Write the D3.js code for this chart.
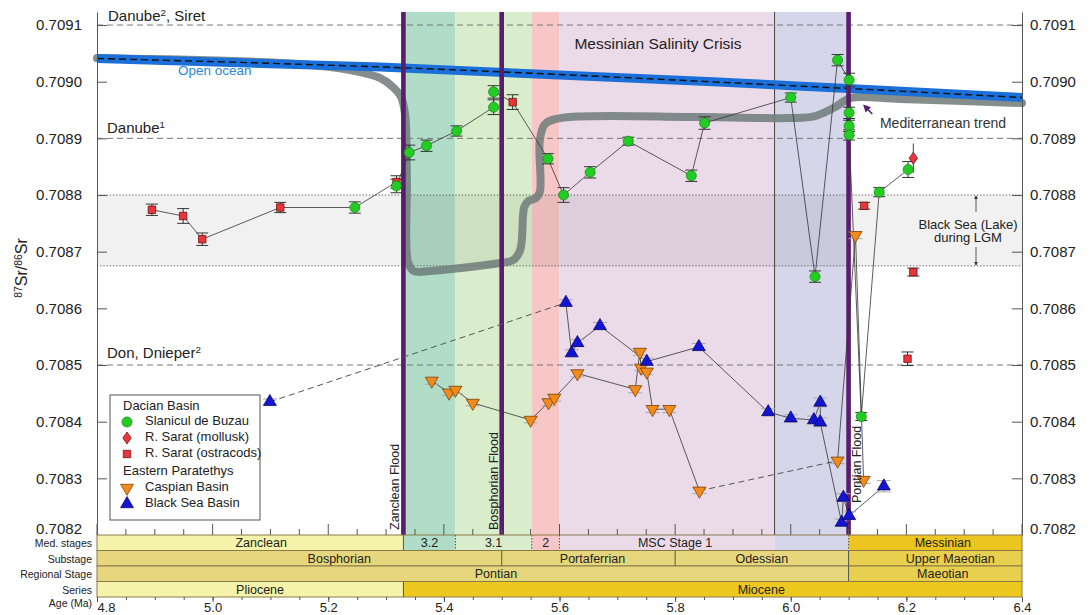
<!DOCTYPE html>
<html><head><meta charset="utf-8">
<script src="https://cdn.jsdelivr.net/npm/d3@7"></script>
<style>
body{margin:0;background:#fff;}
text{font-family:"Liberation Sans",Arial,Helvetica,sans-serif;fill:#222;}
</style>
</head><body>
<svg id="c" width="1091" height="615"></svg>
<script>
// ---------------- DATA ----------------
const yTicks = [0.7082,0.7083,0.7084,0.7085,0.7086,0.7087,0.7088,0.7089,0.7090,0.7091];
const xMajorTicks = [4.8,5.0,5.2,5.4,5.6,5.8,6.0,6.2,6.4];
const xMinorTicks = d3.range(0,33).map(i=>+(4.8+i*0.05).toFixed(2));

const refLevels = [0.7091, 0.7089, 0.7085];
const lgmBand = [0.708675, 0.7088];

// shaded intervals (Ma)
const zoneStart = [5.33, 5.42, 5.552, 5.60, 5.972];
const zoneEnd   = [5.42, 5.552, 5.60, 5.972, 6.10];
const floodAge  = [5.33, 5.50, 6.10];
const floodNames = ["Zanclean Flood","Bosphorian Flood","Pontian Flood"];
const mscBoundary = 5.972;

// open ocean curve
const oceanAge = [4.80, 5.29, 5.98, 6.10, 6.40];
const oceanSr  = [0.709041, 0.709026, 0.708994, 0.708988, 0.708972];

// Mediterranean trend
const trendAge = [4.800,5.151,5.238,5.290,5.312,5.326,5.333,5.336,5.338,5.348,5.376,5.497,5.520,5.532,5.537,5.539,5.546,5.559,5.566,5.566,5.575,5.601,5.843,5.999,6.042,6.077,6.103,6.189,6.400];
const trendSr  = [0.7090417,0.7090311,0.7090205,0.7090064,0.7089905,0.7089729,0.7089411,0.7088264,0.7086817,0.7086659,0.7086659,0.7086800,0.7086853,0.7087029,0.7087647,0.7087788,0.7087894,0.7087947,0.7088053,0.7088970,0.7089253,0.7089358,0.7089376,0.7089358,0.7089394,0.7089553,0.7089711,0.7089694,0.7089623];

// Dacian Basin: Slanicul de Buzau
const slanicAge = [5.246,5.318,5.340,5.370,5.422,5.486,5.486,5.580,5.607,5.653,5.719,5.828,5.851,6.000,6.042,6.081,6.101,6.101,6.101,6.101,6.122,6.153,6.203];
const slanicSr  = [0.708778,0.708816,0.708875,0.708887,0.708913,0.708955,0.708982,0.708864,0.708800,0.708840,0.708895,0.708834,0.708927,0.708972,0.708656,0.709038,0.709003,0.708945,0.708922,0.708906,0.708409,0.708805,0.708845];
const slanicErr = [0.000010,0.000012,0.000013,0.000010,0.000009,0.000013,0.000011,0.000009,0.000013,0.000010,0.000007,0.000010,0.000011,0.000008,0.000010,0.000010,0.000012,0.000010,0.000010,0.000009,0.000007,0.000008,0.000014];

// R. Sarat (ostracods); first six are linked to the Dacian line
const ostracodAge = [4.895,4.949,4.982,5.117,5.318,5.519,6.127,6.212,6.202];
const ostracodSr  = [0.708774,0.708763,0.708722,0.708778,0.708823,0.708964,0.708781,0.708664,0.708511];
const ostracodErr = [0.000010,0.000013,0.000011,0.000009,0.000011,0.000013,0.000006,0.000007,0.000012];
const ostracodLinked = 6;

// R. Sarat (mollusk)
const molluskAge = [6.212];
const molluskSr  = [0.708865];
const molluskErr = [0.000026];

// Eastern Paratethys: Caspian Basin
const caspianAge = [5.379,5.409,5.420,5.450,5.550,5.581,5.591,5.631,5.731,5.739,5.741,5.751,5.761,5.790,5.842,6.081,6.112,6.126];
const caspianSr  = [0.708472,0.708451,0.708456,0.708433,0.708403,0.708434,0.708442,0.708485,0.708457,0.708523,0.708495,0.708488,0.708422,0.708422,0.708278,0.708331,0.708729,0.708297];
const caspianErr = [0.000006,0.000005,0.000006,0.000005,0.000005,0.000006,0.000006,0.000006,0.000006,0.000006,0.000005,0.000005,0.000006,0.000006,0.000005,0.000005,0.000006,0.000006];
const caspianDashedAfter = 14;

// Eastern Paratethys: Black Sea Basin
const blackSeaAge = [5.099,5.611,5.621,5.631,5.670,5.751,5.841,5.961,6.000,6.040,6.051,6.051,6.088,6.091,6.101,6.161];
const blackSeaSr  = [0.708435,0.708610,0.708521,0.708539,0.708569,0.708506,0.708532,0.708417,0.708406,0.708403,0.708434,0.708399,0.708222,0.708266,0.708234,0.708286];
const blackSeaErr = [0.000005,0.000005,0.000006,0.000006,0.000006,0.000006,0.000006,0.000006,0.000006,0.000007,0.000008,0.000008,0.000006,0.000007,0.000007,0.000010];
const blackSeaDashedAfter = 0;

// stratigraphic table
const rowLabels = ["Med. stages","Substage","Regional Stage","Series"];
const medNames = ["Zanclean","3.2","3.1","2","MSC Stage 1","","Messinian"];
const medStart = [4.8,5.33,5.42,5.552,5.60,5.972,6.10];
const medEnd   = [5.33,5.42,5.552,5.60,5.972,6.10,6.4];
const medLabelAt = [5.084,5.375,5.486,5.576,5.80,6.036,6.263];
const subNames = ["Bosphorian","Portaferrian","Odessian","Upper Maeotian"];
const subStart = [4.8,5.50,5.80,6.10];
const subEnd   = [5.50,5.80,6.10,6.4];
const subLabelAt = [5.219,5.657,5.950,6.276];
const regNames = ["Pontian","Maeotian"];
const regStart = [4.8,6.10];
const regEnd   = [6.10,6.4];
const regLabelAt = [5.490,6.263];
const serNames = ["Pliocene","Miocene"];
const serStart = [4.8,5.33];
const serEnd   = [5.33,6.4];
const serLabelAt = [5.082,5.949];

// ---------------- STYLE ----------------
const zoneColors = ["#b1dcc7","#d9edcc","#f7c6c6","#ebdae8","#d6d6ea"];
const medColors = ["#f6f3aa","#b1dcc7","#d9edcc","#f7c6c6","#ebdae8","#d6d6ea","#ecc520"];
const subColors = ["#e6d77d","#e6d77d","#e6d77d","#e9cf4e"];
const regColors = ["#e6d77d","#e9cf4e"];
const serColors = ["#f6f3aa","#edc81e"];

// ---------------- CHART ----------------
const svg = d3.select("#c");
const L=97, R=1022, T=12, B=535;
const x = d3.scaleLinear().domain([4.8,6.4]).range([L,R]);
const y = d3.scaleLinear().domain([0.7082,0.709123]).range([B,T]);

const defs = svg.append("defs");
function arrowMarker(id,color){
  defs.append("marker").attr("id",id).attr("viewBox","0 0 10 10").attr("refX",8).attr("refY",5)
    .attr("markerWidth",5).attr("markerHeight",5).attr("orient","auto-start-reverse")
    .append("path").attr("d","M0,0L10,5L0,10z").attr("fill",color);
}
arrowMarker("ab","#333");
arrowMarker("ap","#5a1d6e");

// shaded zones
svg.append("g").selectAll("rect").data(zoneStart).join("rect")
  .attr("x",(d)=>x(d)).attr("y",T).attr("width",(d,i)=>x(zoneEnd[i])-x(d)).attr("height",B-T)
  .attr("fill",(d,i)=>zoneColors[i]);

// LGM band
svg.append("rect").attr("x",L).attr("width",R-L).attr("y",y(lgmBand[1])).attr("height",y(lgmBand[0])-y(lgmBand[1]))
  .attr("fill","rgba(0,0,0,0.055)");
svg.append("g").selectAll("line").data(lgmBand).join("line")
  .attr("x1",L).attr("x2",R).attr("y1",d=>y(d)).attr("y2",d=>y(d))
  .attr("stroke","#555").attr("stroke-width",1).attr("stroke-dasharray","1.2,2");

// reference dashed lines
svg.append("g").selectAll("line").data(refLevels).join("line")
  .attr("x1",L).attr("x2",R).attr("y1",d=>y(d)).attr("y2",d=>y(d))
  .attr("stroke","#777").attr("stroke-width",1).attr("stroke-dasharray","6,4");

// MSC boundary
svg.append("line").attr("x1",x(mscBoundary)).attr("x2",x(mscBoundary)).attr("y1",T).attr("y2",B)
  .attr("stroke","#444").attr("stroke-width",1);

// Mediterranean trend
const trendPts = trendAge.map((a,i)=>[a,trendSr[i]]);
svg.append("path").datum(trendPts)
  .attr("d",d3.line().x(d=>x(d[0])).y(d=>y(d[1])).curve(d3.curveCatmullRom.alpha(0.5)))
  .attr("fill","none").attr("stroke","#6f7b79").attr("stroke-opacity",0.85).attr("stroke-width",8)
  .attr("stroke-linecap","round").attr("stroke-linejoin","round");

// open ocean
const oceanPts = oceanAge.map((a,i)=>[a,oceanSr[i]]);
const oceanLine = d3.line().x(d=>x(d[0])).y(d=>y(d[1])).curve(d3.curveMonotoneX);
svg.append("path").datum(oceanPts).attr("d",oceanLine).attr("fill","none")
  .attr("stroke","#1b6fd8").attr("stroke-width",9);
svg.append("path").datum(oceanPts).attr("d",oceanLine).attr("fill","none")
  .attr("stroke","#111").attr("stroke-width",1.4).attr("stroke-dasharray","7,4");

// flood bars
svg.append("g").selectAll("rect").data(floodAge).join("rect")
  .attr("x",d=>x(d)-2.3).attr("width",4.6).attr("y",T).attr("height",B-T).attr("fill","#5a1d6e");

// axes
const gl = svg.append("g").attr("transform",`translate(${L},0)`)
  .call(d3.axisLeft(y).tickValues(yTicks).tickFormat(d3.format(".4f")).tickSize(-10).tickSizeOuter(0).tickPadding(15));
const gr = svg.append("g").attr("transform",`translate(${R},0)`)
  .call(d3.axisRight(y).tickValues(yTicks).tickFormat(d3.format(".4f")).tickSize(-10).tickSizeOuter(0).tickPadding(8));
[gl,gr].forEach(g=>{
  g.selectAll("path.domain").attr("stroke","#555");
  g.selectAll(".tick line").attr("stroke","#555");
  g.selectAll("text").attr("font-size",15).attr("fill","#222").attr("font-family","Liberation Sans, Arial, sans-serif");
  g.select(".tick text").attr("y",-6);
});
// inner bottom ticks
svg.append("g").selectAll("line").data(xMinorTicks).join("line")
  .attr("x1",d=>x(d)).attr("x2",d=>x(d)).attr("y1",B)
  .attr("y2",d=>B-(xMajorTicks.some(m=>Math.abs(m-d)<1e-6)?11:6))
  .attr("stroke","#555");

// data connector lines
const lineGen = d3.line().x(d=>x(d[0])).y(d=>y(d[1]));
const gLines = svg.append("g");
const dacian = ostracodAge.slice(0,ostracodLinked).map((a,i)=>[a,ostracodSr[i]])
  .concat(slanicAge.map((a,i)=>[a,slanicSr[i]]));
dacian.sort((p,q)=>p[0]-q[0]);
gLines.append("path").datum(dacian).attr("d",lineGen).attr("fill","none").attr("stroke","#333").attr("stroke-width",0.8);

function seriesLines(ages,srs,dashAfter){
  const pts = ages.map((a,i)=>[a,srs[i]]);
  const a = pts.slice(0,dashAfter+1), b = pts.slice(dashAfter+1);
  if(a.length>1) gLines.append("path").datum(a).attr("d",lineGen).attr("fill","none").attr("stroke","#333").attr("stroke-width",0.8);
  if(b.length>1) gLines.append("path").datum(b).attr("d",lineGen).attr("fill","none").attr("stroke","#333").attr("stroke-width",0.8);
  gLines.append("path").datum([pts[dashAfter],pts[dashAfter+1]]).attr("d",lineGen).attr("fill","none")
    .attr("stroke","#555").attr("stroke-width",1).attr("stroke-dasharray","6,4");
}
seriesLines(caspianAge,caspianSr,caspianDashedAfter);
seriesLines(blackSeaAge,blackSeaSr,blackSeaDashedAfter);

// error bars
const gErr = svg.append("g");
function errBars(ages,srs,errs,color,cap){
  ages.forEach((a,i)=>{
    const cx=x(a), y1=y(srs[i]-errs[i]), y2=y(srs[i]+errs[i]);
    gErr.append("line").attr("x1",cx).attr("x2",cx).attr("y1",y1).attr("y2",y2).attr("stroke",color).attr("stroke-width",1);
    [y1,y2].forEach(yy=>gErr.append("line").attr("x1",cx-cap).attr("x2",cx+cap).attr("y1",yy).attr("y2",yy).attr("stroke",color).attr("stroke-width",1));
  });
}
errBars(slanicAge,slanicSr,slanicErr,"#333",6);
errBars(ostracodAge,ostracodSr,ostracodErr,"#333",6);
errBars(molluskAge,molluskSr,molluskErr,"#444",0);
errBars(caspianAge,caspianSr,caspianErr,"#aaa",7);
errBars(blackSeaAge,blackSeaSr,blackSeaErr,"#aaa",7);

// markers
const gM = svg.append("g");
const sym = {
  circle: d3.symbol().type(d3.symbolCircle).size(80)(),
  square: d3.symbol().type(d3.symbolSquare).size(56)(),
  diamond: "M0,-6L4.2,0L0,6L-4.2,0Z",
  tri: d3.symbol().type(d3.symbolTriangle).size(72)()
};
const styles = {
  green:{fill:"#22cc22",stroke:"#168016"},
  red:{fill:"#e8343a",stroke:"#5a0a0a"},
  orange:{fill:"#f28a1c",stroke:"#6a3a00"},
  blue:{fill:"#1414d4",stroke:"#00005a"}
};
function markers(ages,srs,path,st,rot){
  gM.append("g").selectAll("path").data(ages).join("path")
    .attr("d",path).attr("transform",(d,i)=>`translate(${x(d)},${y(srs[i])})${rot?" rotate(180)":""}`)
    .attr("fill",st.fill).attr("stroke",st.stroke).attr("stroke-width",0.7);
}
markers(ostracodAge,ostracodSr,sym.square,styles.red,false);
markers(slanicAge,slanicSr,sym.circle,styles.green,false);
markers(molluskAge,molluskSr,sym.diamond,styles.red,false);
markers(caspianAge,caspianSr,sym.tri,styles.orange,true);
markers(blackSeaAge,blackSeaSr,sym.tri,styles.blue,false);

// ---------------- ANNOTATIONS ----------------
function supText(g, parts, attrs){
  const t = g.append("text");
  Object.entries(attrs).forEach(([k,v])=>t.attr(k,v));
  parts.forEach(p=>{
    const s=t.append("tspan").text(p[0]);
    if(p[1]) s.attr("baseline-shift","super").attr("font-size","65%");
  });
  return t;
}
supText(svg,[["Danube"],["2",1],[", Siret"]],{x:108,y:21,"font-size":15});
supText(svg,[["Danube"],["1",1]],{x:107,y:133,"font-size":15});
supText(svg,[["Don, Dnieper"],["2",1]],{x:107,y:358,"font-size":15});
svg.append("text").attr("x",178).attr("y",75).attr("font-size",13.5).style("fill","#2a86d8").text("Open ocean");
svg.append("text").attr("x",658).attr("y",49).attr("text-anchor","middle").attr("font-size",15.5).text("Messinian Salinity Crisis");
svg.append("text").attr("x",943).attr("y",128).attr("text-anchor","middle").attr("font-size",14).style("fill","#333").text("Mediterranean trend");
svg.append("line").attr("x1",x(6.141)).attr("y1",y(0.708943)).attr("x2",x(6.127)).attr("y2",y(0.708958))
  .attr("stroke","#5a1d6e").attr("stroke-width",1.5).attr("marker-end","url(#ap)");
svg.append("text").attr("x",968).attr("y",229).attr("text-anchor","middle").attr("font-size",13).text("Black Sea (Lake)");
svg.append("text").attr("x",968).attr("y",242).attr("text-anchor","middle").attr("font-size",13).text("during LGM");
svg.append("line").attr("x1",976).attr("x2",976).attr("y1",212).attr("y2",y(lgmBand[1])+1)
  .attr("stroke","#333").attr("stroke-width",0.8).attr("marker-end","url(#ab)");
svg.append("line").attr("x1",976).attr("x2",976).attr("y1",247).attr("y2",y(lgmBand[0])-1)
  .attr("stroke","#333").attr("stroke-width",0.8).attr("marker-end","url(#ab)");

// flood labels
const floodOffsets = [[-8,530],[-8,530],[8,503]];
floodAge.forEach((a,i)=>{
  svg.append("text").attr("transform",`translate(${x(a)+floodOffsets[i][0]+4},${floodOffsets[i][1]}) rotate(-90)`)
    .attr("font-size",12.5).text(floodNames[i]);
});

// y label
supText(svg,[["87",1],["Sr/"],["86",1],["Sr"]],{transform:"translate(27,268) rotate(-90)","text-anchor":"middle","font-size":16});

// legend
const lg = svg.append("g");
lg.append("rect").attr("x",110).attr("y",395).attr("width",150).attr("height",125).attr("fill","#fff").attr("stroke","#555").attr("stroke-width",1);
const legItems = [
  {t:"Dacian Basin",y:410,head:true},
  {t:"Slanicul de Buzau",y:425,s:sym.circle,st:styles.green},
  {t:"R. Sarat (mollusk)",y:441,s:sym.diamond,st:styles.red},
  {t:"R. Sarat (ostracods)",y:457,s:sym.square,st:styles.red},
  {t:"Eastern Paratethys",y:475,head:true},
  {t:"Caspian Basin",y:491,s:sym.tri,st:styles.orange,rot:true},
  {t:"Black Sea Basin",y:507,s:sym.tri,st:styles.blue}
];
legItems.forEach(it=>{
  if(it.head){ lg.append("text").attr("x",123).attr("y",it.y).attr("font-size",13).text(it.t); return; }
  lg.append("path").attr("d",it.s).attr("transform",`translate(127,${it.y-3})${it.rot?" rotate(180)":""}`)
    .attr("fill",it.st.fill).attr("stroke",it.st.stroke).attr("stroke-width",0.7);
  lg.append("text").attr("x",145).attr("y",it.y).attr("font-size",13).text(it.t);
});

// ---------------- STRAT TABLE ----------------
const rowH = 15.5;
const rowTop = [0,1,2,3].map(i=>B+i*rowH);
const tableBottom = B+4*rowH;
const rows = [
  {n:medNames,s:medStart,e:medEnd,c:medColors,l:medLabelAt},
  {n:subNames,s:subStart,e:subEnd,c:subColors,l:subLabelAt},
  {n:regNames,s:regStart,e:regEnd,c:regColors,l:regLabelAt},
  {n:serNames,s:serStart,e:serEnd,c:serColors,l:serLabelAt}
];
const gt = svg.append("g");
rows.forEach((r,ri)=>{
  const y0=rowTop[ri];
  r.n.forEach((nm,i)=>{
    gt.append("rect").attr("x",x(r.s[i])).attr("y",y0).attr("width",x(r.e[i])-x(r.s[i])).attr("height",rowH).attr("fill",r.c[i]);
  });
  gt.append("rect").attr("x",L).attr("y",y0).attr("width",R-L).attr("height",rowH).attr("fill","none").attr("stroke","#8a7a4a").attr("stroke-width",1);
  r.s.forEach((s,i)=>{
    if(i===0) return;
    if(ri===0 && i===5) return;
    const dotted = ri===0 && s!==5.33;
    gt.append("line").attr("x1",x(s)).attr("x2",x(s)).attr("y1",y0).attr("y2",y0+rowH)
      .attr("stroke","#555").attr("stroke-width",1).attr("stroke-dasharray",dotted?"1.5,1.5":null);
  });
  r.n.forEach((nm,i)=>{
    if(!nm) return;
    gt.append("text").attr("x",x(r.l[i])).attr("y",y0+12).attr("text-anchor","middle").attr("font-size",12.5).text(nm);
  });
  gt.append("text").attr("x",92).attr("y",y0+12).attr("text-anchor","end").attr("font-size",10.5).text(rowLabels[ri]);
});
gt.append("text").attr("x",92).attr("y",tableBottom+10).attr("text-anchor","end").attr("font-size",10.5).text("Age (Ma)");

// age axis
const ax = svg.append("g").attr("transform",`translate(0,${tableBottom})`);
ax.call(d3.axisBottom(x).tickValues(xMinorTicks).tickSize(3).tickFormat("").tickSizeOuter(0));
ax.selectAll("path.domain").remove();
ax.selectAll("line").attr("stroke","#555");
const ax2 = svg.append("g").attr("transform",`translate(0,${tableBottom})`);
ax2.call(d3.axisBottom(x).tickValues(xMajorTicks).tickSize(5).tickPadding(1).tickFormat(d3.format(".1f")));
ax2.selectAll("path.domain").remove();
ax2.selectAll("line").attr("stroke","#555");
ax2.selectAll("text").attr("font-size",13).attr("fill","#222").attr("font-family","Liberation Sans, Arial, sans-serif");
ax2.select(".tick text").attr("text-anchor","start");
</script>
</body></html>
